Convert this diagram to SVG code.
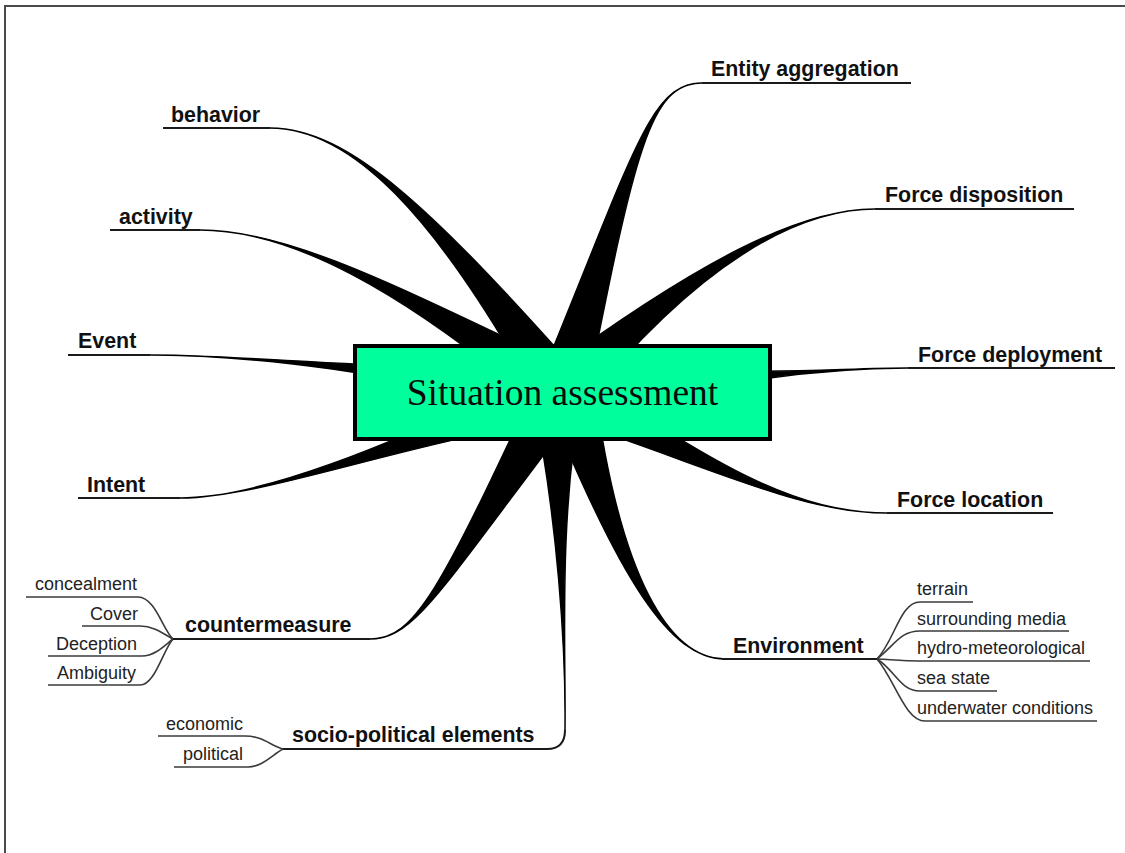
<svg xmlns="http://www.w3.org/2000/svg" width="1125" height="853" viewBox="0 0 1125 853">
  <defs>
    <style>
      .frame { fill: none; stroke: #4a4a4a; stroke-width: 2; }
      .branch { fill: #000; stroke: #000; stroke-width: 1.5; stroke-linejoin: round; }
      .rule { fill: none; stroke: #1a1a1a; stroke-width: 2; }
      .twig { fill: none; stroke: #3a3a3a; stroke-width: 1.6; }
      .main { font-family: "Liberation Sans", Arial, sans-serif; font-weight: bold; font-size: 21.4px; fill: #111; }
      .sub { font-family: "Liberation Sans", Arial, sans-serif; font-size: 18px; fill: #222; }
      .hub { fill: #00FF9C; stroke: #000; stroke-width: 4; }
      .hubtext { font-family: "Liberation Serif", "Times New Roman", serif; font-size: 37.5px; fill: #0a0a0a; }
    </style>
  </defs>

  <rect x="0" y="0" width="1125" height="853" fill="#fff"/>
  <!-- page frame: top and left edges only -->
  <path class="frame" d="M5,853 V6 H1125"/>

  <!-- tapered branches radiating from the hub, plus the thin twigs of sub-items -->
  <g id="connectors">
    <path class="branch" d="M270,128 C350,128 435,212 541.6,406.4 L582.4,377.6 C435,212 350,128 270,128 Z"/>
    <path class="branch" d="M200,230 C290,230 400,288 547.9,412.7 L576.1,371.3 C400,288 290,230 200,230 Z"/>
    <path class="branch" d="M150,355 C250,355 400,372 558.9,416.8 L565.1,367.2 C400,372 250,355 150,355 Z"/>
    <path class="branch" d="M180,498 C260,498 380,450 569.6,415.8 L554.4,368.2 C380,450 260,498 180,498 Z"/>
    <path class="branch" d="M370,639 C415,639 440,590 581.4,405 L538.6,379 C440,590 415,639 370,639 Z"/>
    <path class="branch" d="M565,730 C566,650 558,520 582,391.8 L532,392.2 C558,520 566,650 565,730 Z"/>
    <path class="branch" d="M725,659 C670,659 620,580 594.2,385.6 L545.8,398.4 C620,580 670,659 725,659 Z"/>
    <path class="branch" d="M887,513 C800,513 720,470 573.1,369.6 L550.9,414.4 C720,470 800,513 887,513 Z"/>
    <path class="branch" d="M908,368 C830,368 700,380 559.2,360.1 L564.8,423.9 C700,380 830,368 908,368 Z"/>
    <path class="branch" d="M875,209 C800,209 700,260 544.7,373.9 L579.3,410.1 C700,260 800,209 875,209 Z"/>
    <path class="branch" d="M702,83 C650,83 635,150 538.1,384.8 L585.9,399.2 C635,150 650,83 702,83 Z"/>
    <path class="rule" d="M547,749 Q565,749 565,730"/>

    <!-- countermeasure twigs -->
    <path class="twig" d="M138,597 C155,597 163,630 173,639"/>
    <path class="twig" d="M140,626 C155,626 165,635 173,639"/>
    <path class="twig" d="M142,656 C155,656 165,645 173,639"/>
    <path class="twig" d="M140,685 C155,685 163,650 173,639"/>
    <!-- socio-political twigs -->
    <path class="twig" d="M245,736 C262,736 270,745 283,749"/>
    <path class="twig" d="M248,767 C262,767 272,755 283,749"/>
    <!-- environment twigs -->
    <path class="twig" d="M877,659 C895,640 900,602 920,602"/>
    <path class="twig" d="M877,659 C895,645 900,631 920,631"/>
    <path class="twig" d="M877,659 C895,660 905,661 920,661"/>
    <path class="twig" d="M877,659 C895,670 900,691 920,691"/>
    <path class="twig" d="M877,659 C895,680 905,721 925,721"/>
  </g>

  <g id="hub">
    <rect class="hub" x="355" y="346" width="415" height="93"/>
    <text class="hubtext" x="562.5" y="405" text-anchor="middle">Situation assessment</text>
  </g>

  <g id="behavior">
    <path class="rule" d="M163,128 H270"/>
    <text class="main" x="171" y="122">behavior</text>
  </g>
  <g id="activity">
    <path class="rule" d="M110,230 H200"/>
    <text class="main" x="119" y="224">activity</text>
  </g>
  <g id="event">
    <path class="rule" d="M68,355 H150"/>
    <text class="main" x="78" y="348">Event</text>
  </g>
  <g id="intent">
    <path class="rule" d="M78,498 H180"/>
    <text class="main" x="87" y="492">Intent</text>
  </g>
  <g id="countermeasure">
    <path class="rule" d="M173,639 H370"/>
    <text class="main" x="185" y="632">countermeasure</text>
  </g>
  <g id="socio-political">
    <path class="rule" d="M283,749 H547"/>
    <text class="main" x="292" y="742">socio-political elements</text>
  </g>
  <g id="environment">
    <path class="rule" d="M722,659 H877"/>
    <text class="main" x="733" y="653">Environment</text>
  </g>
  <g id="force-location">
    <path class="rule" d="M887,513 H1053"/>
    <text class="main" x="897" y="507">Force location</text>
  </g>
  <g id="force-deployment">
    <path class="rule" d="M908,368 H1115"/>
    <text class="main" x="918" y="362">Force deployment</text>
  </g>
  <g id="force-disposition">
    <path class="rule" d="M875,209 H1074"/>
    <text class="main" x="885" y="202">Force disposition</text>
  </g>
  <g id="entity-aggregation">
    <path class="rule" d="M702,83 H911"/>
    <text class="main" x="711" y="76">Entity aggregation</text>
  </g>

  <!-- countermeasure sub-items -->
  <g id="concealment">
    <path class="twig" d="M26,597 H138"/>
    <text class="sub" x="137" y="590" text-anchor="end">concealment</text>
  </g>
  <g id="cover">
    <path class="twig" d="M82,626 H140"/>
    <text class="sub" x="138" y="620" text-anchor="end">Cover</text>
  </g>
  <g id="deception">
    <path class="twig" d="M48,656 H142"/>
    <text class="sub" x="137" y="650" text-anchor="end">Deception</text>
  </g>
  <g id="ambiguity">
    <path class="twig" d="M48,685 H140"/>
    <text class="sub" x="136" y="679" text-anchor="end">Ambiguity</text>
  </g>

  <!-- socio-political sub-items -->
  <g id="economic">
    <path class="twig" d="M158,736 H245"/>
    <text class="sub" x="243" y="730" text-anchor="end">economic</text>
  </g>
  <g id="political">
    <path class="twig" d="M174,767 H248"/>
    <text class="sub" x="243" y="760" text-anchor="end">political</text>
  </g>

  <!-- environment sub-items -->
  <g id="terrain">
    <path class="twig" d="M920,602 H973"/>
    <text class="sub" x="917" y="595">terrain</text>
  </g>
  <g id="surrounding-media">
    <path class="twig" d="M920,631 H1069"/>
    <text class="sub" x="917" y="625">surrounding media</text>
  </g>
  <g id="hydro-meteorological">
    <path class="twig" d="M920,661 H1090"/>
    <text class="sub" x="917" y="654">hydro-meteorological</text>
  </g>
  <g id="sea-state">
    <path class="twig" d="M920,691 H997"/>
    <text class="sub" x="917" y="684">sea state</text>
  </g>
  <g id="underwater-conditions">
    <path class="twig" d="M925,721 H1097"/>
    <text class="sub" x="917" y="714">underwater conditions</text>
  </g>
</svg>
